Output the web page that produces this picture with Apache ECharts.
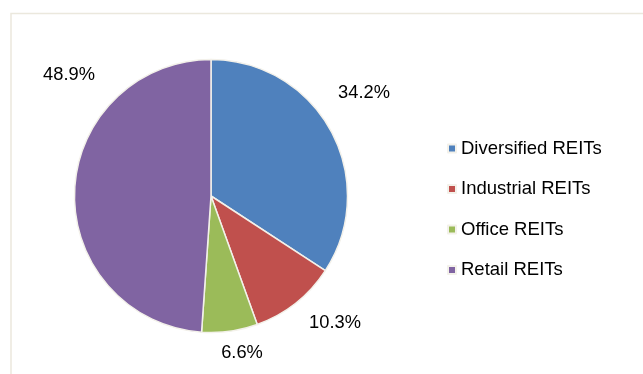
<!DOCTYPE html>
<html><head><meta charset="utf-8">
<script src="https://cdn.jsdelivr.net/npm/echarts@6/dist/echarts.min.js"></script>
<style>html,body{margin:0;padding:0;background:#fff}#c{width:643px;height:374px}</style>
</head><body><div id="c"></div>
<script>
const categories = ['Diversified REITs','Industrial REITs','Office REITs','Retail REITs'];
const values = [34.2, 10.3, 6.6, 48.9];
const colors = ['#4f81bd','#c0504d','#9bbb59','#8064a2'];
const labelPos = [[364,93],[335,323],[242,353],[69,75]];

const chart = echarts.init(document.getElementById('c'), null, {renderer:'canvas'});
chart.setOption({
  animation:false,
  backgroundColor:'#fff',
  graphic:[{type:'rect',shape:{x:11,y:13.5,width:700,height:400},style:{fill:'none',stroke:'#ebe8dd',lineWidth:1.5},silent:true,z:-10}],
  legend:{
    orient:'vertical', left:447, top:139, padding:0, itemGap:21.5, itemWidth:8, itemHeight:8,
    icon:'rect',
    textStyle:{fontFamily:'Liberation Sans, Arial', fontSize:18.5, color:'#000'},
    data:categories
  },
  series:[{
    type:'pie', center:[211,196], radius:136.5, startAngle:90, clockwise:true,
    color:colors,
    itemStyle:{borderColor:'#f3f1ea', borderWidth:1.5},
    label:{show:true, position:'outside', overflow:'none', formatter:p=>p.value.toFixed(1)+'%', fontFamily:'Liberation Sans, Arial', fontSize:18.3, color:'#000'},
    labelLine:{show:false},
    labelLayout:function(params){const p=labelPos[params.dataIndex];return {x:p[0],y:p[1],align:'center',verticalAlign:'middle'};},
    data:categories.map((n,i)=>({name:n,value:values[i]}))
  }]
});
</script></body></html>
